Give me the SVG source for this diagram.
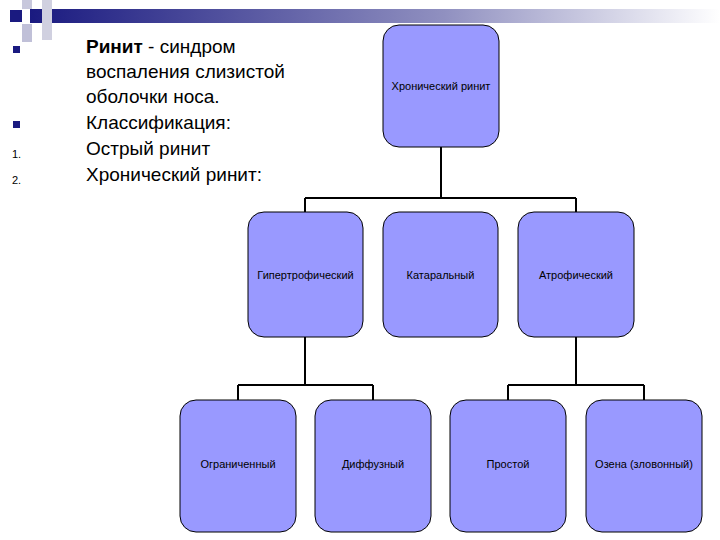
<svg xmlns="http://www.w3.org/2000/svg" width="720" height="540" viewBox="0 0 720 540">
<defs>
<linearGradient id="g" x1="0" x2="1" y1="0" y2="0"><stop offset="0" stop-color="#1a1a80"/><stop offset="0.6" stop-color="#9090c0"/><stop offset="1" stop-color="#ffffff"/></linearGradient>
</defs>
<style>
.n{fill:#9999ff;stroke:#000;stroke-width:1}
.l{font-family:"Liberation Sans",Arial,sans-serif;font-size:11px;fill:#000;text-anchor:middle}
.t{font-family:"Liberation Sans",Arial,sans-serif;font-size:19px;fill:#000}
.c{fill:none;stroke:#000;stroke-width:2}
</style>
<rect width="720" height="540" fill="#fff"/>
<g id="deco">
<rect x="30" y="9" width="690" height="14" fill="url(#g)"/>
<rect x="22" y="0" width="10" height="9" fill="#c8c8dc"/>
<rect x="42" y="0" width="10" height="40" fill="#d0d0e0"/>
<rect x="10" y="10" width="12" height="12" fill="#1a1a80"/>
<rect x="22" y="24" width="10" height="18" fill="#c0c0d8"/>
</g>
<g id="text">
<rect x="13" y="46" width="7" height="7" fill="#1a1a80"/>
<rect x="13" y="121" width="7" height="7" fill="#1a1a80"/>
<text x="12" y="158" font-family="Liberation Sans,sans-serif" font-size="11">1.</text>
<text x="12" y="184" font-family="Liberation Sans,sans-serif" font-size="11">2.</text>
<text class="t" x="86" y="53"><tspan font-weight="bold">Ринит</tspan>  - синдром</text>
<text class="t" x="86" y="78">воспаления слизистой</text>
<text class="t" x="86" y="103">оболочки носа.</text>
<text class="t" x="86" y="129" fill="#1a1a80">Классификация:</text>
<text class="t" x="86" y="155">Острый ринит</text>
<text class="t" x="86" y="181">Хронический ринит:</text>
</g>
<g id="connectors">
<path class="c" d="M441 147V198M305 198H576M305 198V212M576 198V212"/>
<path class="c" d="M305 337V385M238 385H373M238 385V400M373 385V400"/>
<path class="c" d="M576 337V385M508 385H644M508 385V400M644 385V400"/>
</g>
<g id="n0"><rect class="n" x="383" y="25" width="116" height="122" rx="16"/><text class="l" x="441" y="90">Хронический ринит</text></g>
<g id="n1"><rect class="n" x="248" y="212" width="115" height="125" rx="16"/><text class="l" x="305.5" y="279">Гипертрофический</text></g>
<g id="n2"><rect class="n" x="383" y="212" width="115" height="125" rx="16"/><text class="l" x="440.5" y="279">Катаральный</text></g>
<g id="n3"><rect class="n" x="518" y="212" width="116" height="125" rx="16"/><text class="l" x="576" y="279">Атрофический</text></g>
<g id="n4"><rect class="n" x="180" y="400" width="116" height="132" rx="16"/><text class="l" x="238" y="468">Ограниченный</text></g>
<g id="n5"><rect class="n" x="315" y="400" width="116" height="132" rx="16"/><text class="l" x="373" y="468">Диффузный</text></g>
<g id="n6"><rect class="n" x="450" y="400" width="116" height="132" rx="16"/><text class="l" x="508" y="468">Простой</text></g>
<g id="n7"><rect class="n" x="586" y="400" width="116" height="132" rx="16"/><text class="l" x="644" y="468">Озена (зловонный)</text></g>
</svg>
